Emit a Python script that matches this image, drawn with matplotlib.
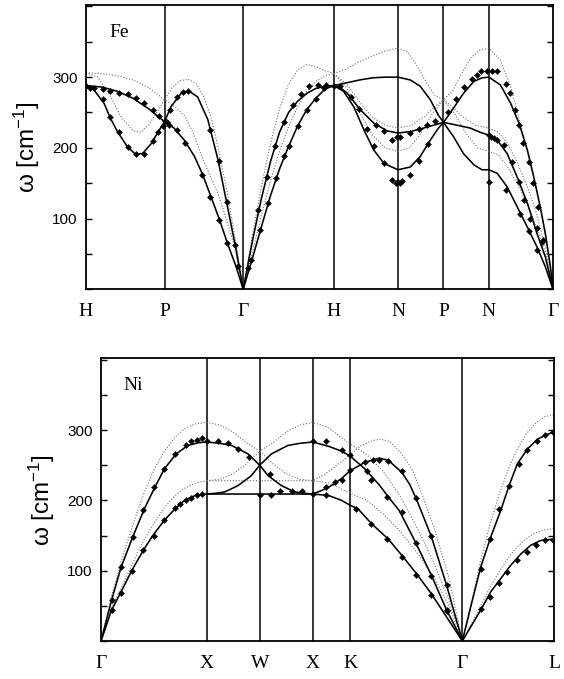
import matplotlib
matplotlib.use("Agg")
import matplotlib.pyplot as plt
import numpy as np
from matplotlib.ticker import MultipleLocator

plt.rcParams["font.family"] = ["Liberation Sans", "DejaVu Sans"]
plt.rcParams["mathtext.fontset"] = "custom"
plt.rcParams["mathtext.rm"] = "Liberation Sans"
plt.rcParams["mathtext.it"] = "Liberation Sans:italic"

# ---------------------------------------------------------------- Fe (bcc)
fe_labels = ["H", "P", "Γ", "H", "N", "P", "N", "Γ"]
fe_seg_len = [0.866, 0.866, 1.0, 0.707, 0.5, 0.5, 0.707]   # 2π/a units

# positions are "segment index + fraction along that segment"
fe_solid = [
    ([0, 0.05, 0.10, 0.23, 0.31, 0.40, 0.53, 0.63, 0.72, 0.83, 0.91, 1.0,
      1.08, 1.21, 1.315, 1.42, 1.55, 1.68, 1.80, 1.91, 2.0],
     [288, 286, 282, 263, 242, 223, 201, 191, 192, 206, 221, 237,
      258, 277, 280, 272, 240, 183, 117, 56, 0]),
    ([0, 0.2, 0.4, 0.6, 0.8, 1.0, 1.12, 1.25, 1.38, 1.485, 1.59, 1.70,
      1.80, 1.91, 2.0],
     [288, 286, 280, 270, 255, 237, 228, 211, 188, 162, 131, 98, 65, 32, 0]),
    ([2.0, 2.1, 2.2, 2.3, 2.4, 2.5, 2.6, 2.7, 2.8, 2.9, 3.0],
     [0, 67, 128, 180, 222, 250, 266, 277, 284, 287, 288]),
    ([2.0, 2.1, 2.2, 2.3, 2.4, 2.5, 2.6, 2.7, 2.8, 2.9, 3.0],
     [0, 43, 88, 132, 170, 202, 231, 254, 270, 283, 288]),
    ([3.0, 3.2, 3.4, 3.6, 3.8, 4.0, 4.27, 4.49, 4.71, 4.89, 5.0,
      5.22, 5.44, 5.67, 5.85, 6.0, 6.18, 6.34, 6.47, 6.60, 6.70, 6.80,
      6.88, 6.96, 7.0],
     [288, 292, 296, 299, 300, 300, 296, 287, 268, 246, 236,
      256, 277, 294, 299, 300, 289, 263, 235, 197, 159, 117, 79, 32, 0]),
    ([3.0, 3.1, 3.21, 3.41, 3.62, 3.83, 4.0, 4.27, 4.56, 4.78, 5.0,
      5.30, 5.59, 5.81, 6.0, 6.13, 6.285, 6.44, 6.60, 6.75, 6.88, 7.0],
     [288, 285, 277, 254, 235, 224, 221, 223, 228, 232, 236,
      232, 228, 222, 218, 211, 192, 159, 122, 79, 46, 0]),
    ([3.0, 3.15, 3.31, 3.47, 3.62, 3.78, 4.0, 4.27, 4.49, 4.71, 4.89, 5.0,
      5.22, 5.44, 5.67, 5.85, 6.0, 6.13, 6.285, 6.44, 6.60, 6.75, 6.88, 7.0],
     [288, 280, 258, 225, 197, 178, 169, 173, 188, 211, 228, 236,
      216, 192, 176, 169, 169, 164, 145, 117, 88, 60, 32, 0]),
]

fe_dotted = [
    ([0, 0.2, 0.4, 0.6, 0.8, 1.0, 1.1, 1.2, 1.3, 1.4, 1.5, 1.6, 1.7,
      1.8, 1.9, 2.0],
     [306, 305, 302, 296, 285, 268, 286, 295, 297, 291, 272, 240, 190,
      135, 70, 0]),
    ([0, 0.15, 0.3, 0.45, 0.6, 0.7, 0.8, 0.9, 1.0, 1.12, 1.25, 1.36,
      1.46, 1.57, 1.68, 1.79, 1.89, 2.0],
     [306, 300, 275, 243, 224, 222, 233, 250, 268, 259, 246, 222,
      192, 163, 135, 98, 60, 0]),
    ([2.0, 2.1, 2.2, 2.3, 2.4, 2.5, 2.6, 2.7, 2.8, 2.9, 3.0],
     [0, 75, 145, 205, 255, 290, 310, 318, 315, 309, 305]),
    ([2.0, 2.1, 2.2, 2.3, 2.4, 2.5, 2.6, 2.7, 2.8, 2.9, 3.0],
     [0, 52, 104, 153, 195, 230, 258, 280, 294, 302, 305]),
    ([3.0, 3.2, 3.4, 3.6, 3.8, 4.0, 4.2, 4.4, 4.6, 4.8, 5.0,
      5.2, 5.4, 5.6, 5.8, 6.0, 6.18, 6.34, 6.49, 6.65, 6.80, 6.9, 7.0],
     [305, 312, 322, 330, 337, 341, 336, 318, 295, 275, 268,
      280, 305, 327, 338, 341, 324, 287, 235, 178, 117, 70, 0]),
    ([3.0, 3.2, 3.4, 3.6, 3.8, 4.0, 4.3, 4.6, 4.8, 5.0,
      5.2, 5.4, 5.7, 6.0, 6.15, 6.3, 6.45, 6.6, 6.75, 6.88, 7.0],
     [305, 290, 265, 243, 232, 228, 232, 245, 258, 268,
      258, 245, 232, 228, 222, 205, 178, 145, 105, 60, 0]),
    ([3.0, 3.2, 3.4, 3.6, 3.8, 4.0, 4.25, 4.5, 4.75, 5.0,
      5.25, 5.5, 5.75, 6.0, 6.15, 6.3, 6.45, 6.6, 6.75, 6.88, 7.0],
     [305, 285, 250, 218, 200, 195, 200, 220, 248, 268,
      248, 220, 200, 195, 190, 172, 148, 120, 88, 52, 0]),
]

fe_pts_pos = [
    0.0, 0.10, 0.21, 0.31, 0.42, 0.53, 0.63, 0.74, 0.85, 0.93,
    0.05, 0.21, 0.31, 0.42, 0.53, 0.63, 0.74, 0.85, 0.92, 0.98, 1.0, 1.03,
    1.07, 1.16, 1.23, 1.30, 1.58, 1.69, 1.79, 1.90,
    1.05, 1.16, 1.26, 1.475, 1.58, 1.69, 1.79, 1.94,
    2.05, 2.167, 2.26, 2.35, 2.45, 2.55, 2.64, 2.73, 2.82, 2.91,
    2.09, 2.18, 2.27, 2.36, 2.45, 2.50, 2.60, 2.70, 2.80, 2.89, 3.0,
    3.10, 3.26, 3.39, 3.52, 3.63, 3.78, 3.91, 3.96, 4.0,
    3.65, 3.78, 3.91, 3.98, 4.05,
    4.27, 4.45, 4.64, 4.82,
    4.04, 4.09, 4.27, 4.45, 4.65,
    5.11, 5.28, 5.46, 5.63, 5.73, 5.83, 5.96,
    6.05, 6.13, 6.26, 6.33, 6.41, 6.47, 6.54, 6.62, 6.69, 6.76, 6.84,
    6.0, 6.03, 6.08, 6.13, 6.23, 6.36, 6.47, 6.55, 6.64, 6.75, 6.83,
    6.0, 6.26, 6.49, 6.62, 6.75,
]
fe_pts_val = [
    288, 285, 283, 280, 278, 276, 270, 264, 254, 245,
    285, 269, 244, 223, 201, 191, 191, 209, 223, 231, 238, 236,
    254, 272, 279, 280, 225, 181, 124, 62,
    232, 225, 207, 162, 131, 98, 65, 33,
    30, 112, 159, 202, 237, 260, 276, 287, 289, 289,
    41, 84, 122, 157, 188, 203, 231, 254, 269, 284, 288,
    287, 272, 255, 226, 203, 178, 155, 150, 152,
    232, 224, 211, 215, 215,
    221, 226, 232, 238,
    150, 153, 162, 182, 206,
    251, 269, 286, 298, 303, 309, 309,
    309, 309, 291, 277, 254, 232, 207, 180, 150, 117, 70,
    218, 216, 214, 211, 204, 180, 152, 126, 100, 87, 67,
    152, 140, 107, 82, 56,
]

# ---------------------------------------------------------------- Ni (fcc)
ni_labels = ["Γ", "X", "W", "X", "K", "Γ", "L"]
ni_seg_len = [1.0, 0.5, 0.5, 0.354, 1.061, 0.866]

ni_solid = [
    ([0, 0.10, 0.19, 0.30, 0.41, 0.51, 0.60, 0.71, 0.82, 0.92, 1.0,
      1.25, 1.47, 1.78, 2.0, 2.22, 2.53, 2.75, 3.0, 3.42, 3.77, 4.0,
      4.13, 4.26, 4.34, 4.44, 4.59, 4.725, 4.86, 5.0],
     [0, 58, 105, 148, 188, 219, 245, 266, 278, 282, 283,
      281, 278, 266, 250, 266, 278, 281, 283, 277, 270, 263,
      245, 222, 205, 185, 138, 93, 44, 0]),
    ([0, 0.10, 0.19, 0.29, 0.40, 0.49, 0.60, 0.70, 0.79, 0.89, 1.0,
      1.16, 1.34, 1.59, 1.84, 2.0, 2.16, 2.41, 2.66, 2.84, 3.0,
      3.24, 3.5, 3.77, 4.0, 4.13, 4.26, 4.34, 4.46, 4.53, 4.59, 4.725,
      4.86, 5.0],
     [0, 44, 70, 100, 129, 150, 172, 188, 200, 207, 209,
      210, 212, 221, 235, 250, 235, 221, 212, 210, 209,
      214, 221, 231, 242, 254, 260, 257, 240, 223, 202, 148, 79, 0]),
    ([1.0, 2.0, 3.0, 3.42, 3.77, 4.0, 4.07, 4.19, 4.34, 4.46, 4.59,
      4.725, 4.86, 5.0],
     [209, 209, 209, 207, 200, 193, 188, 167, 145, 122, 96, 67, 34, 0]),
    ([5.0, 5.09, 5.2, 5.31, 5.42, 5.51, 5.60, 5.71, 5.82, 5.93, 6.0],
     [0, 48, 105, 148, 186, 221, 252, 273, 287, 294, 297]),
    ([5.0, 5.1, 5.2, 5.31, 5.42, 5.53, 5.64, 5.745, 5.855, 6.0],
     [0, 22, 44, 70, 89, 108, 124, 136, 143, 145]),
]

ni_dotted = [
    ([0, 0.1, 0.2, 0.3, 0.4, 0.5, 0.6, 0.7, 0.8, 0.9, 1.0,
      1.25, 1.5, 1.75, 2.0, 2.25, 2.5, 2.75, 3.0, 3.4, 3.7, 4.0,
      4.15, 4.3, 4.45, 4.6, 4.75, 4.88, 5.0],
     [0, 64, 118, 165, 208, 243, 270, 290, 303, 309, 311,
      307, 297, 282, 270, 282, 297, 307, 311, 304, 292, 280,
      265, 240, 205, 160, 110, 58, 0]),
    ([0, 0.1, 0.2, 0.3, 0.4, 0.5, 0.6, 0.7, 0.8, 0.9, 1.0,
      1.25, 1.5, 1.75, 2.0, 2.25, 2.5, 2.75, 3.0, 3.3, 3.6, 4.0,
      4.1, 4.2, 4.27, 4.35, 4.45, 4.55, 4.65, 4.75, 4.88, 5.0],
     [0, 47, 78, 111, 142, 167, 190, 207, 218, 225, 228,
      230, 238, 252, 270, 252, 238, 230, 228, 236, 248, 265,
      278, 285, 287, 284, 268, 245, 205, 160, 90, 0]),
    ([1.0, 2.0, 3.0, 3.4, 3.7, 4.0, 4.15, 4.3, 4.45, 4.6, 4.75, 4.88, 5.0],
     [228, 228, 228, 225, 218, 210, 200, 180, 155, 125, 90, 50, 0]),
    ([5.0, 5.1, 5.2, 5.3, 5.4, 5.5, 5.6, 5.7, 5.8, 5.9, 6.0],
     [0, 55, 115, 165, 208, 244, 273, 295, 310, 319, 322]),
    ([5.0, 5.1, 5.2, 5.3, 5.4, 5.5, 5.6, 5.7, 5.8, 5.9, 6.0],
     [0, 25, 50, 76, 98, 118, 134, 146, 154, 158, 160]),
]

ni_pts_pos = [
    0.10, 0.19, 0.30, 0.40, 0.50, 0.60, 0.70, 0.80, 0.855, 0.905, 0.955, 1.0,
    0.10, 0.19, 0.29, 0.40, 0.50, 0.60, 0.70, 0.75, 0.80, 0.85, 0.905, 0.955,
    1.21, 1.40, 1.59, 1.79, 2.0,
    2.21, 2.39, 2.61, 2.80, 3.0, 2.2, 3.0,
    3.37, 3.78, 4.0, 3.37, 3.59, 3.78, 4.0, 3.37,
    4.13, 4.20, 4.26, 4.34, 4.46, 4.585, 4.725, 4.86,
    4.15, 4.19, 4.33, 4.46, 4.59, 4.725, 4.86,
    4.05, 4.19, 4.33, 4.46, 4.59, 4.725, 4.86,
    5.2, 5.30, 5.40, 5.51, 5.62, 5.71, 5.81, 5.90, 5.99,
    5.2, 5.30, 5.40, 5.49, 5.60, 5.70, 5.80, 5.90, 5.99,
]
ni_pts_val = [
    58, 105, 148, 186, 219, 245, 266, 279, 284, 286, 289, 284,
    44, 68, 100, 129, 150, 172, 189, 195, 200, 204, 208, 209,
    284, 281, 273, 261, 208,
    207, 214, 214, 213, 209, 238, 284,
    284, 271, 265, 219, 226, 229, 243, 208,
    254, 257, 257, 256, 242, 204, 149, 79,
    242, 229, 205, 184, 139, 93, 43,
    187, 167, 145, 120, 94, 66, 44,
    102, 145, 187, 221, 251, 272, 285, 293, 297,
    45, 63, 82, 98, 115, 126, 136, 143, 143,
]

SERIF = ["Liberation Serif", "DejaVu Serif"]


def draw_panel(ax, labels, seg_len, solid, dotted, pts_pos, pts_val, name):
    knots = np.concatenate([[0.0], np.cumsum(seg_len)])
    idx = np.arange(len(knots))

    def to_k(pos):
        return np.interp(pos, idx, knots)

    for pos, val in dotted:
        ax.plot(to_k(pos), val, color="#707070", lw=0.8,
                linestyle=(0, (1.0, 1.6)), zorder=2)
    for pos, val in solid:
        ax.plot(to_k(pos), val, color="black", lw=1.15, zorder=3)
    ax.plot(to_k(pts_pos), pts_val, linestyle="none", marker="D", ms=3.1,
            mfc="black", mec="black", mew=0.3, zorder=4)

    for k in knots[1:-1]:
        ax.axvline(k, color="black", lw=1.1, zorder=1)

    ax.set_xlim(knots[0], knots[-1])
    ax.set_ylim(0, 402)
    ax.set_xticks(knots)
    ax.set_xticklabels(labels, family=SERIF, fontsize=14)
    ax.tick_params(axis="x", length=0, pad=10)

    ax.yaxis.set_major_locator(MultipleLocator(100))
    ax.yaxis.set_minor_locator(MultipleLocator(50))
    ax.set_yticks([100, 200, 300])
    ax.set_yticklabels(["100", "200", "300"])
    ax.tick_params(axis="y", which="both", direction="in", right=True,
                   labelsize=11, pad=6)
    ax.tick_params(axis="y", which="major", length=4, width=1.0)
    ax.tick_params(axis="y", which="minor", length=4, width=1.0)
    for sp in ax.spines.values():
        sp.set_linewidth(1.3)

    ax.set_ylabel(r"ω [cm$^{-1}$]", fontsize=17.5, labelpad=7)
    ax.text(0.05, 0.905, name, transform=ax.transAxes, family=SERIF,
            fontsize=14, ha="left", va="center")


fig = plt.figure(figsize=(5.64, 6.79), dpi=100)
ax_fe = fig.add_axes([86 / 564, 1 - 289.3 / 679, 467 / 564, 284.3 / 679])
ax_ni = fig.add_axes([101 / 564, 1 - 641 / 679, 453 / 564, 282.7 / 679])

draw_panel(ax_fe, fe_labels, fe_seg_len, fe_solid, fe_dotted,
           fe_pts_pos, fe_pts_val, "Fe")
draw_panel(ax_ni, ni_labels, ni_seg_len, ni_solid, ni_dotted,
           ni_pts_pos, ni_pts_val, "Ni")

fig.savefig("out.png", dpi=100)
